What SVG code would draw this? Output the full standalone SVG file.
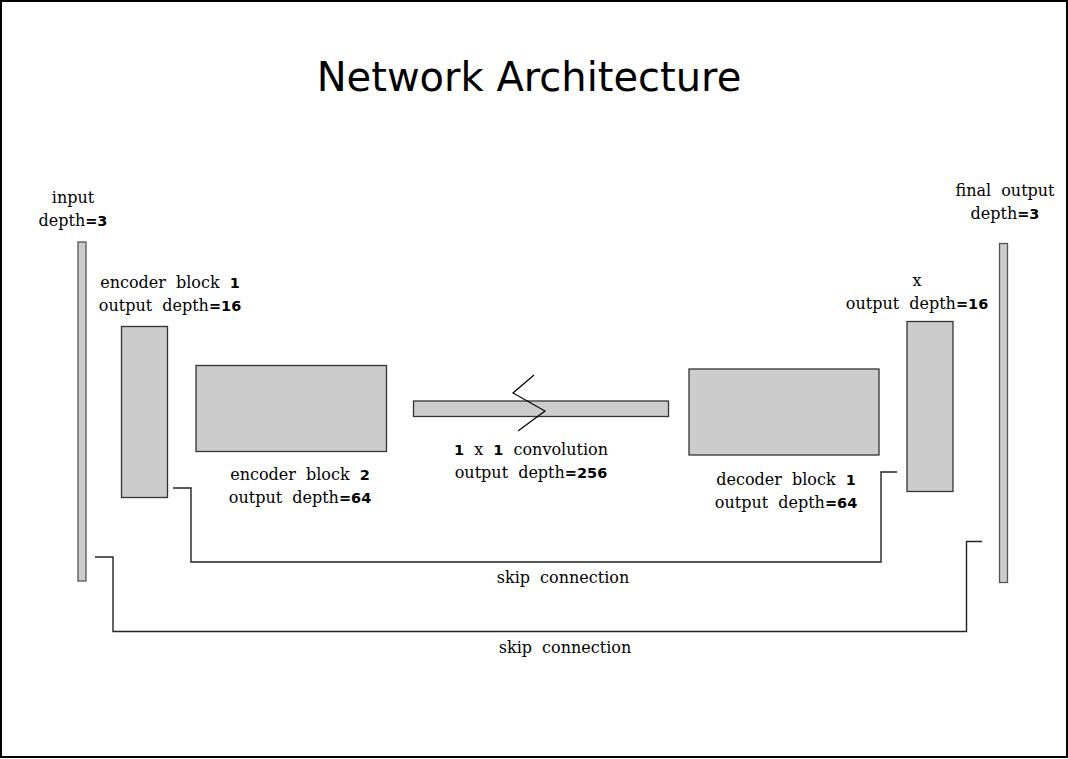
<svg xmlns="http://www.w3.org/2000/svg" width="1068" height="759" viewBox="0 0 1068 759">
<style>
.blk{fill:#cccccc;stroke:#333333;stroke-width:1.3}
.bar{fill:#cccccc;stroke:#555555;stroke-width:1.3}
.lbl{font-family:"DejaVu Serif","Liberation Serif",serif;font-size:16px;fill:#000;text-anchor:middle;word-spacing:5px}
.num{font-family:"DejaVu Sans","Liberation Sans",sans-serif;font-size:14.5px;font-weight:bold}
.title{font-family:"DejaVu Sans","Liberation Sans",sans-serif;font-size:40px;fill:#000;text-anchor:middle}
.conn{fill:none;stroke:#222222;stroke-width:1.4}
</style>
<rect x="0" y="0" width="1068" height="759" fill="#ffffff"/>
<rect x="1" y="1" width="1066" height="756" fill="none" stroke="#000" stroke-width="2"/>
<text class="title" x="529" y="91">Network Architecture</text>

<g id="input">
<rect class="bar" x="78" y="242" width="8" height="339"/>
<text class="lbl" x="73" y="203">input</text>
<text class="lbl" x="73" y="226">depth<tspan class="num">=3</tspan></text>
</g>

<g id="encoder1">
<rect class="blk" x="121.5" y="326.5" width="46" height="171"/>
<text class="lbl" x="170" y="288">encoder block <tspan class="num">1</tspan></text>
<text class="lbl" x="170" y="311">output depth<tspan class="num">=16</tspan></text>
</g>

<g id="encoder2">
<rect class="blk" x="196" y="365.5" width="190.5" height="86"/>
<text class="lbl" x="300" y="480">encoder block <tspan class="num">2</tspan></text>
<text class="lbl" x="300" y="503">output depth<tspan class="num">=64</tspan></text>
</g>

<g id="conv">
<rect class="blk" x="413.5" y="401" width="255" height="15.5"/>
<text class="lbl" x="531" y="455"><tspan class="num">1</tspan> x <tspan class="num">1</tspan> convolution</text>
<text class="lbl" x="531" y="478">output depth<tspan class="num">=256</tspan></text>
</g>

<g id="decoder1">
<rect class="blk" x="689" y="369" width="190" height="86"/>
<text class="lbl" x="786" y="485">decoder block <tspan class="num">1</tspan></text>
<text class="lbl" x="786" y="508">output depth<tspan class="num">=64</tspan></text>
</g>

<g id="x">
<rect class="blk" x="907" y="321.5" width="46" height="170"/>
<text class="lbl" x="917" y="286">x</text>
<text class="lbl" x="917" y="309">output depth<tspan class="num">=16</tspan></text>
</g>

<g id="final">
<rect class="bar" x="999.5" y="243.5" width="8" height="339"/>
<text class="lbl" x="1005" y="196">final output</text>
<text class="lbl" x="1005" y="219">depth<tspan class="num">=3</tspan></text>
</g>

<g id="connectors">
<polyline class="conn" points="173,488 191,488 191,562 881,562 881,472 897,472"/>
<polyline class="conn" points="95,557 113,557 113,631.5 966.5,631.5 966.5,541.5 982,541.5"/>
<polyline points="534,375 513,393 545,411 518,431" stroke="#000" stroke-width="1.2" fill="none"/>
<text class="lbl" x="563" y="583">skip connection</text>
<text class="lbl" x="565" y="653">skip connection</text>
</g>
</svg>
